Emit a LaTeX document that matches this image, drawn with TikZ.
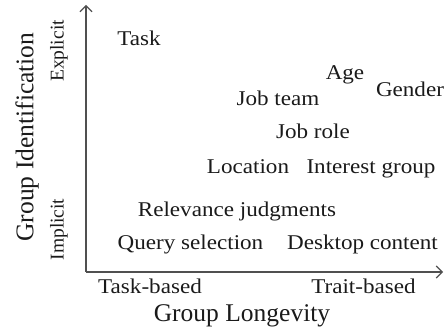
\documentclass[tikz,border=0pt]{standalone}
\usepackage{fontspec}
\usetikzlibrary{arrows.meta}
\setmainfont{Liberation Serif}
\newfontfamily\labfont[FakeStretch=1.1]{Liberation Serif}
\definecolor{txt}{HTML}{1A1A1A}
\definecolor{axis}{HTML}{505050}
\begin{document}
\begin{tikzpicture}[x=1pt,y=-1pt,
  lab/.style={inner sep=0pt,anchor=base,text=txt,font=\labfont\fontsize{21}{24}\selectfont},
  side/.style={inner sep=0pt,anchor=center,rotate=90,text=txt,font=\fontsize{19.5}{22}\selectfont},
  title/.style={inner sep=0pt,text=txt,font=\fontsize{25.5}{28}\selectfont},
  axisline/.style={draw=axis,line width=1.1pt,-{Straight Barb[length=6pt,width=12pt,line width=1.1pt]}}]
\useasboundingbox (0,0) rectangle (448,331);
\coordinate (o) at (86,272);
\coordinate (ytip) at (86,5);
\coordinate (xtip) at (443,272);
\draw[axisline] (o) -- (ytip);
\draw[axisline] (o) -- (xtip);
\node[lab] (task) at (139,46) {Task};
\node[lab] (age) at (345,80) {Age};
\node[lab] (gender) at (410,97) {Gender};
\node[lab] (jobteam) at (278,106) {Job team};
\node[lab] (jobrole) at (313,139) {Job role};
\node[lab] (location) at (248,174) {Location};
\node[lab] (interest) at (371,174) {Interest group};
\node[lab] (relevance) at (237,217) {Relevance judgments};
\node[lab] (query) at (190.5,250) {Query selection};
\node[lab] (desktop) at (362.5,250) {Desktop content};
\node[lab] (taskbased) at (150,294) {Task-based};
\node[lab] (traitbased) at (363.5,294) {Trait-based};
\node[title,anchor=base] (longevity) at (242,322) {Group Longevity};
\node[title,rotate=90,anchor=center] (ident) at (27,137) {Group Identification};
\node[side] (explicit) at (59,51) {Explicit};
\node[side] (implicit) at (59,229.5) {Implicit};
\end{tikzpicture}
\end{document}
